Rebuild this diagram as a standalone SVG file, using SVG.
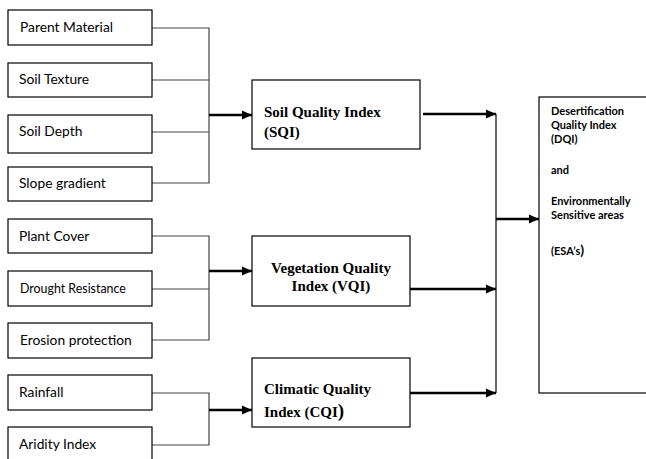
<svg xmlns="http://www.w3.org/2000/svg" width="646" height="459" viewBox="0 0 646 459">
<defs>
<marker id="ah" markerWidth="10" markerHeight="10" refX="10" refY="5" orient="auto" markerUnits="userSpaceOnUse">
<path d="M0,0.5 L10,5 L0,9.5 Z" fill="#000"/>
</marker>
<style>
.box{fill:#fff;stroke:#000;stroke-width:1.2}
.thin{fill:none;stroke:#444;stroke-width:1.2}
.arr{fill:none;stroke:#000;stroke-width:2.4}
.in{font-family:Lato,"Open Sans","Liberation Sans",sans-serif;font-size:13.8px;fill:#000}
.idx{font-family:"Liberation Serif","DejaVu Serif",serif;font-weight:bold;font-size:15px;fill:#000}
.dq{font-family:Lato,"Open Sans","Liberation Sans",sans-serif;font-weight:bold;font-size:11px;fill:#000}
</style>
</defs>
<rect width="646" height="459" fill="#fff"/>
<g id="connectors">
<path class="thin" d="M152,28 H209 V183 H152 M152,80 H209 M152,132 H209"/>
<path class="thin" d="M152,236 H209 V340 H152 M152,289 H209"/>
<path class="thin" d="M152,393 H209 V445 H152"/>
<path class="arr" d="M209,115 H252" marker-end="url(#ah)"/>
<path class="arr" d="M209,271 H252" marker-end="url(#ah)"/>
<path class="arr" d="M209,410 H252" marker-end="url(#ah)"/>
<path class="arr" d="M423,114 H496" marker-end="url(#ah)"/>
<path class="arr" d="M410,289 H496" marker-end="url(#ah)"/>
<path class="arr" d="M410,393 H496" marker-end="url(#ah)"/>
<path class="thin" d="M496,114 V393" style="stroke:#000"/>
<path class="arr" d="M496,219 H539" marker-end="url(#ah)"/>
</g>
<g id="parent-material"><rect class="box" x="8" y="10" width="144" height="35"/><text class="in" x="20" y="32">Parent Material</text></g>
<g id="soil-texture"><rect class="box" x="8" y="63" width="144" height="34"/><text class="in" x="19" y="84">Soil Texture</text></g>
<g id="soil-depth"><rect class="box" x="8" y="115" width="144" height="38"/><text class="in" x="19" y="136">Soil Depth</text></g>
<g id="slope-gradient"><rect class="box" x="8" y="167" width="144" height="34"/><text class="in" x="19" y="188">Slope gradient</text></g>
<g id="plant-cover"><rect class="box" x="8" y="219" width="144" height="34"/><text class="in" x="19" y="241">Plant Cover</text></g>
<g id="drought-resistance"><rect class="box" x="8" y="271" width="144" height="35"/><text class="in" x="20" y="293" style="font-size:12.4px">Drought Resistance</text></g>
<g id="erosion-protection"><rect class="box" x="8" y="323" width="144" height="35"/><text class="in" x="20" y="345">Erosion protection</text></g>
<g id="rainfall"><rect class="box" x="8" y="375" width="144" height="35"/><text class="in" x="19" y="397">Rainfall</text></g>
<g id="aridity-index"><rect class="box" x="8" y="427" width="144" height="40"/><text class="in" x="19" y="449">Aridity Index</text></g>
<g id="sqi"><rect class="box" x="252" y="80" width="168" height="69"/><text class="idx" x="264" y="117">Soil Quality Index</text><text class="idx" x="264" y="137">(SQI)</text></g>
<g id="vqi"><rect class="box" x="252" y="236" width="158" height="70"/><text class="idx" x="331" y="273" text-anchor="middle">Vegetation Quality</text><text class="idx" x="331" y="291" text-anchor="middle">Index (VQI)</text></g>
<g id="cqi"><rect class="box" x="252" y="358" width="158" height="69"/><text class="idx" x="264" y="394">Climatic Quality</text><text class="idx" x="264" y="417">Index (CQI<tspan font-size="19px">)</tspan></text></g>
<g id="dqi"><rect class="box" x="539" y="97" width="120" height="296"/>
<text class="dq" x="551" y="115">Desertification</text>
<text class="dq" x="551" y="129">Quality Index</text>
<text class="dq" x="551" y="143">(DQI)</text>
<text class="dq" x="551" y="174">and</text>
<text class="dq" x="551" y="205">Environmentally</text>
<text class="dq" x="551" y="219">Sensitive areas</text>
<text class="dq" x="551" y="255">(ESA’s<tspan font-size="14px">)</tspan></text>
</g>
</svg>
